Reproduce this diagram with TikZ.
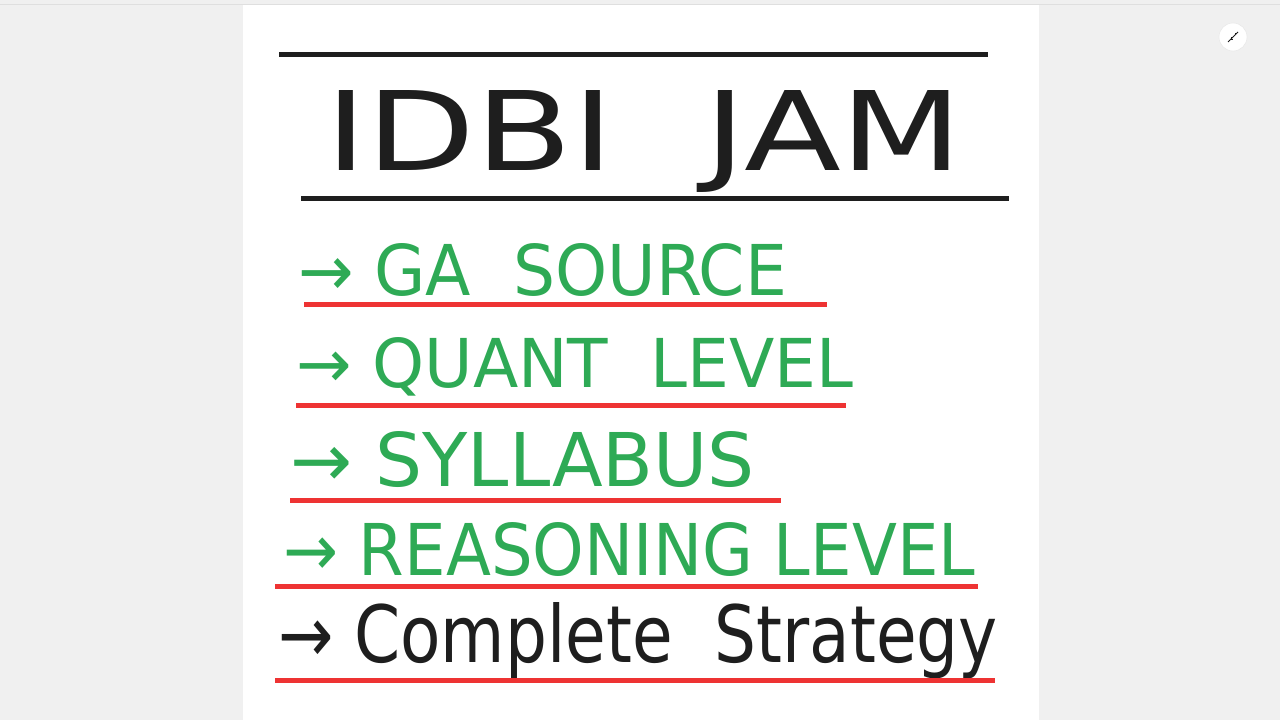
\documentclass[tikz,border=0pt]{standalone}
\usepackage{fontspec}
\setmainfont{DejaVu Sans}
\usepackage{graphicx}
\definecolor{gr}{HTML}{2EAA55}
\definecolor{rd}{HTML}{EE3333}
\definecolor{ink}{HTML}{1E1E1E}
\begin{document}
\begin{tikzpicture}[x=1pt,y=-1pt,
  rule/.style={line width=5pt},
  txt/.style={anchor=base west,inner sep=0pt,outer sep=0pt}]
\useasboundingbox (0,0) rectangle (1280,720);
\fill[gray!12] (0,0) rectangle (1280,720);
\fill[white] (243,5) rectangle (1039,720);
\draw[gray!25,line width=1pt] (0,4) -- (1280,4);
% zoom icon
\node[circle,fill=white,draw=gray!20,minimum size=28pt] (icon) at (1233,37) {};
\draw[ink,line width=0.8pt] (1228,42) -- (1238,32);
\draw[ink,line width=0.8pt] (1231,37)--(1231,39)--(1233,39) (1235,35)--(1235,33)--(1237,33);
% black rules
\draw[rule,ink] (279,54) -- (988,54);
\draw[rule,ink] (301,198) -- (1009,198);
\node[txt,text=ink] (title) at (325,170) {\resizebox{637pt}{80pt}{IDBI\ \ JAM}};
% items
\node[txt,text=gr] (i1) at (298,295) {\resizebox{489pt}{52pt}{→ GA\ \ SOURCE}};
\draw[rule,rd] (304,304) -- (827,304);
\node[txt,text=gr] (i2) at (296,387) {\resizebox{557pt}{50pt}{→ QUANT\ \ LEVEL}};
\draw[rule,rd] (296,405) -- (846,405);
\node[txt,text=gr] (i3) at (290,486) {\resizebox{465pt}{55pt}{→ SYLLABUS}};
\draw[rule,rd] (290,500) -- (781,500);
\node[txt,text=gr] (i4) at (283,575) {\resizebox{692pt}{53pt}{→ REASONING LEVEL}};
\draw[rule,rd] (275,586) -- (978,586);
\node[txt,text=ink] (i5) at (278,662) {\resizebox{720pt}{60pt}{→ Complete\ \ Strategy}};
\draw[rule,rd] (275,680) -- (995,680);
\end{tikzpicture}
\end{document}
